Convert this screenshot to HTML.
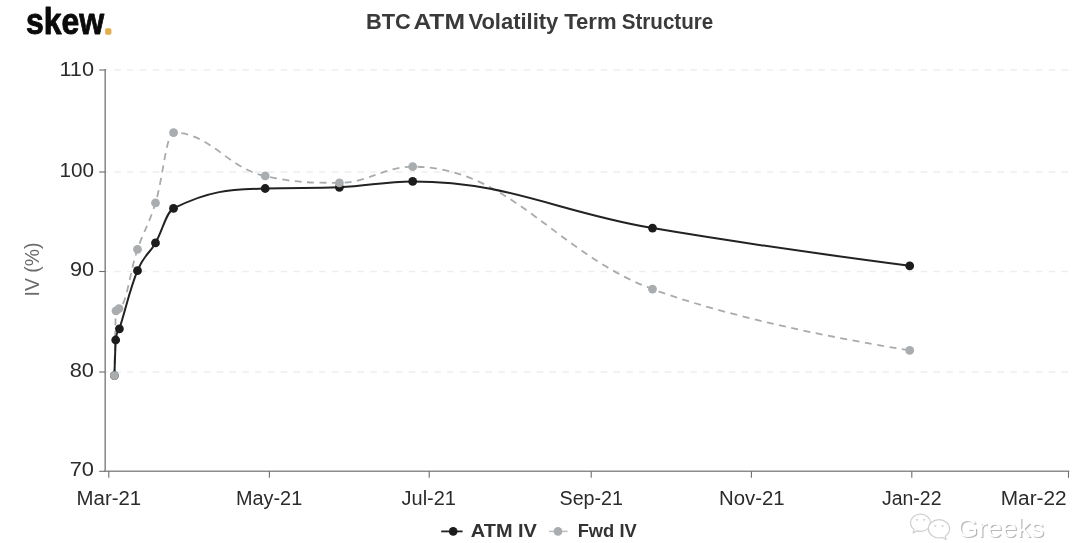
<!DOCTYPE html>
<html lang="en"><head><meta charset="utf-8"><title>BTC ATM Volatility Term Structure</title>
<style>
html,body{margin:0;padding:0;background:#fff;}
body{width:1080px;height:543px;overflow:hidden;}
svg{display:block;}
text{font-family:"Liberation Sans",sans-serif;}
.tick{font-size:19.6px;fill:#2b2b2b;}
.xt{font-size:19.4px;fill:#2b2b2b;}
.ttl{font-size:21.5px;font-weight:bold;fill:#3a3a3a;}
.leg{font-size:18.5px;font-weight:bold;fill:#333;}
.ylab{font-size:20px;fill:#6b6b6b;}
.logo{font-size:37px;font-weight:bold;fill:#0b0b0b;}
</style></head><body>
<svg width="1080" height="543" viewBox="0 0 1080 543">
<rect width="1080" height="543" fill="#ffffff"/>
<line x1="105.2" y1="70.0" x2="1068.5" y2="70.0" stroke="#eeeeee" stroke-width="1.5" stroke-dasharray="6.5 6.3" stroke-dashoffset="-9"/>
<line x1="105.2" y1="172.0" x2="1068.5" y2="172.0" stroke="#eeeeee" stroke-width="1.5" stroke-dasharray="6.5 6.3" stroke-dashoffset="-9"/>
<line x1="105.2" y1="271.5" x2="1068.5" y2="271.5" stroke="#eeeeee" stroke-width="1.5" stroke-dasharray="6.5 6.3" stroke-dashoffset="-9"/>
<line x1="105.2" y1="372.0" x2="1068.5" y2="372.0" stroke="#eeeeee" stroke-width="1.5" stroke-dasharray="6.5 6.3" stroke-dashoffset="-9"/>
<g stroke="#8c8c8c" stroke-width="1.6" fill="none">
<line x1="105.2" y1="69.0" x2="105.2" y2="472.1"/>
<line x1="104.4" y1="471.3" x2="1069.3" y2="471.3"/>
</g>
<g stroke="#6e6e6e" stroke-width="1.1">
<line x1="99.2" y1="70.0" x2="105.2" y2="70.0"/>
<line x1="99.2" y1="172.0" x2="105.2" y2="172.0"/>
<line x1="99.2" y1="271.5" x2="105.2" y2="271.5"/>
<line x1="99.2" y1="372.0" x2="105.2" y2="372.0"/>
<line x1="99.2" y1="471.3" x2="105.2" y2="471.3"/>
<line x1="108.8" y1="471.3" x2="108.8" y2="477.8"/>
<line x1="269.4" y1="471.3" x2="269.4" y2="477.8"/>
<line x1="429.2" y1="471.3" x2="429.2" y2="477.8"/>
<line x1="591.2" y1="471.3" x2="591.2" y2="477.8"/>
<line x1="751.4" y1="471.3" x2="751.4" y2="477.8"/>
<line x1="911.8" y1="471.3" x2="911.8" y2="477.8"/>
<line x1="1068.5" y1="471.3" x2="1068.5" y2="477.8"/>
</g>
<text class="tick" x="59.4" y="76.1" textLength="34.6" lengthAdjust="spacingAndGlyphs">110</text>
<text class="tick" x="59.4" y="176.8" textLength="34.6" lengthAdjust="spacingAndGlyphs">100</text>
<text class="tick" x="69.9" y="276.2" textLength="24.1" lengthAdjust="spacingAndGlyphs">90</text>
<text class="tick" x="69.7" y="376.5" textLength="24.3" lengthAdjust="spacingAndGlyphs">80</text>
<text class="tick" x="69.7" y="476.1" textLength="24.3" lengthAdjust="spacingAndGlyphs">70</text>
<text class="xt" x="76.6" y="504.6" textLength="64.6" lengthAdjust="spacingAndGlyphs">Mar-21</text>
<text class="xt" x="236.0" y="504.6" textLength="66.2" lengthAdjust="spacingAndGlyphs">May-21</text>
<text class="xt" x="401.5" y="504.6" textLength="54.5" lengthAdjust="spacingAndGlyphs">Jul-21</text>
<text class="xt" x="559.5" y="504.6" textLength="63.5" lengthAdjust="spacingAndGlyphs">Sep-21</text>
<text class="xt" x="719.0" y="504.6" textLength="65.7" lengthAdjust="spacingAndGlyphs">Nov-21</text>
<text class="xt" x="882.0" y="504.6" textLength="59.5" lengthAdjust="spacingAndGlyphs">Jan-22</text>
<text class="xt" x="1000.7" y="504.6" textLength="66.0" lengthAdjust="spacingAndGlyphs">Mar-22</text>
<text class="ylab" transform="translate(39.1 296.4) rotate(-90)" textLength="54" lengthAdjust="spacingAndGlyphs">IV (%)</text>
<text class="ttl" y="29.3"><tspan x="365.9" textLength="44.9" lengthAdjust="spacingAndGlyphs">BTC</tspan> <tspan x="413.4" textLength="51.6" lengthAdjust="spacingAndGlyphs">ATM</tspan> <tspan x="468.4" textLength="89.9" lengthAdjust="spacingAndGlyphs">Volatility</tspan> <tspan x="564.2" textLength="52.4" lengthAdjust="spacingAndGlyphs">Term</tspan> <tspan x="621.7" textLength="91.6" lengthAdjust="spacingAndGlyphs">Structure</tspan></text>
<text class="logo" x="26.0" y="33.6" textLength="78.2" lengthAdjust="spacingAndGlyphs" stroke="#0b0b0b" stroke-width="0.9" stroke-linejoin="round">skew</text>
<text x="105.6" y="32.8" font-size="20" font-weight="bold" fill="#e0ae4a" stroke="#e0ae4a" stroke-width="3.4" stroke-linejoin="round">.</text>
<path d="M 114.40 375.60 C 114.40 375.60 115.36 313.00 116.00 310.80 C 117.20 308.60 117.80 310.80 119.00 308.60 C 126.40 306.40 130.10 270.73 137.50 249.30 C 144.70 228.45 148.30 226.18 155.50 202.90 C 162.74 179.50 166.36 132.60 173.60 132.60 C 210.24 132.60 228.56 169.00 265.20 175.90 C 294.88 182.80 309.72 182.80 339.40 182.80 C 368.72 182.80 383.38 166.70 412.70 166.70 C 508.62 166.70 556.58 253.67 652.50 289.10 C 755.38 327.11 909.70 350.30 909.70 350.30" fill="none" stroke="#a8abad" stroke-width="1.8" stroke-dasharray="7 5.5" stroke-linejoin="round"/>
<path d="M 114.40 375.60 C 114.40 375.60 115.18 351.20 115.70 340.00 C 117.18 328.80 117.92 333.50 119.40 328.80 C 126.64 305.78 130.26 287.93 137.50 270.70 C 144.70 253.57 148.30 255.36 155.50 242.90 C 162.70 230.44 166.30 211.97 173.50 208.40 C 210.18 190.21 228.52 189.70 265.20 188.50 C 294.88 187.30 309.72 188.50 339.40 187.30 C 368.72 186.10 383.38 181.40 412.70 181.40 C 508.62 181.40 556.58 211.81 652.50 228.10 C 755.38 245.57 909.70 265.80 909.70 265.80" fill="none" stroke="#222222" stroke-width="2.0" stroke-linejoin="round" stroke-linecap="round"/>
<g fill="#1c1c1c">
<circle cx="114.4" cy="375.6" r="4.4"/>
<circle cx="115.7" cy="340.0" r="4.4"/>
<circle cx="119.4" cy="328.8" r="4.4"/>
<circle cx="137.5" cy="270.7" r="4.4"/>
<circle cx="155.5" cy="242.9" r="4.4"/>
<circle cx="173.5" cy="208.4" r="4.4"/>
<circle cx="265.2" cy="188.5" r="4.4"/>
<circle cx="339.4" cy="187.3" r="4.4"/>
<circle cx="412.7" cy="181.4" r="4.4"/>
<circle cx="652.5" cy="228.1" r="4.4"/>
<circle cx="909.7" cy="265.8" r="4.4"/>
</g>
<g fill="#a9adb0">
<circle cx="114.4" cy="375.6" r="4.4"/>
<circle cx="116.0" cy="310.8" r="4.4"/>
<circle cx="119.0" cy="308.6" r="4.4"/>
<circle cx="137.5" cy="249.3" r="4.4"/>
<circle cx="155.5" cy="202.9" r="4.4"/>
<circle cx="173.6" cy="132.6" r="4.4"/>
<circle cx="265.2" cy="175.9" r="4.4"/>
<circle cx="339.4" cy="182.8" r="4.4"/>
<circle cx="412.7" cy="166.7" r="4.4"/>
<circle cx="652.5" cy="289.1" r="4.4"/>
<circle cx="909.7" cy="350.3" r="4.4"/>
</g>
<line x1="441.2" y1="531.4" x2="462.6" y2="531.4" stroke="#222" stroke-width="1.8"/><circle cx="453.2" cy="531.4" r="4.3" fill="#1c1c1c"/>
<text class="leg" x="470.8" y="536.8" textLength="66.1" lengthAdjust="spacingAndGlyphs">ATM IV</text>
<line x1="549" y1="531.4" x2="567.6" y2="531.4" stroke="#bcbfc1" stroke-width="1.5"/><circle cx="558" cy="531.4" r="4.3" fill="#a9adb0"/>
<text class="leg" x="577.7" y="536.8" textLength="59.0" lengthAdjust="spacingAndGlyphs">Fwd IV</text>
<g id="wm">
<g fill="#ffffff" stroke="#cfcfcf" stroke-width="1.2" stroke-linejoin="round">
<path d="M920.5 514.2c-5.600 0-10 3.800-10 8.600 0 2.700 1.400 5.100 3.700 6.700l-1.100 3.500 3.900-2.100c1.100 0.300 2.300 0.500 3.500 0.500 5.600 0 10-3.800 10-8.600s-4.400-8.600-10-8.600z"/>
<path d="M939 519.600c-5.900 0-10.600 4.100-10.600 9.200s4.700 9.200 10.600 9.200c1.200 0 2.400-0.200 3.500-0.500l3.700 2.100-1-3.400c2.700-1.700 4.400-4.400 4.400-7.400 0-5.100-4.700-9.200-10.600-9.200z"/>
</g>
<g fill="#d4d4d4"><circle cx="917" cy="519.800" r="1.100"/><circle cx="924.200" cy="519.800" r="1.100"/><circle cx="935.300" cy="526" r="1.100"/><circle cx="942.600" cy="526" r="1.100"/></g>
<text x="958.300" y="537.900" font-size="25.500" textLength="87" lengthAdjust="spacingAndGlyphs" fill="#b9b9b9">Greeks</text>
<text x="957.100" y="536.900" font-size="25.500" textLength="87" lengthAdjust="spacingAndGlyphs" fill="#ffffff">Greeks</text>
</g>
</svg>
</body></html>
